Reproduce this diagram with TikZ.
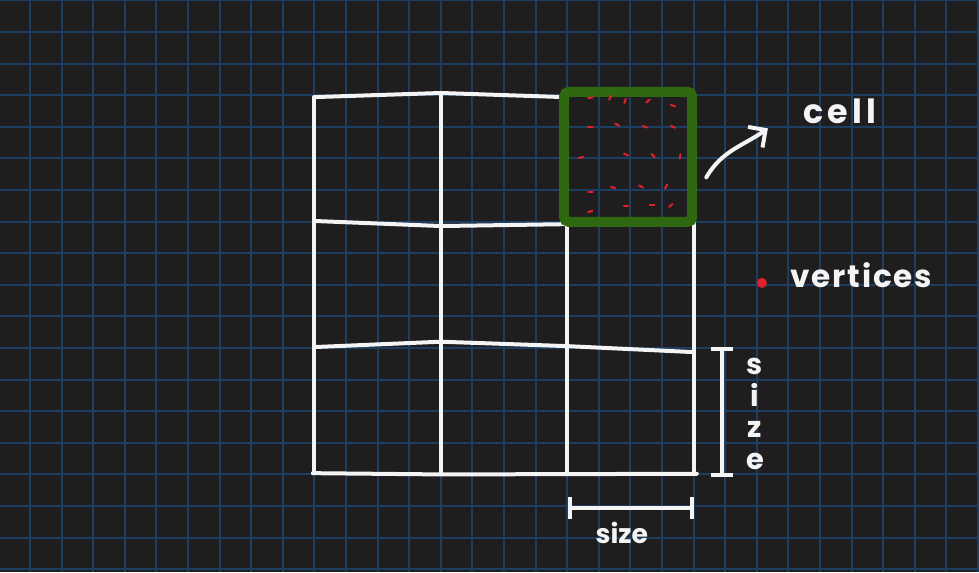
\documentclass[tikz,border=0pt]{standalone}
\usepackage{fontspec}
\setmainfont{Poppins}
\usetikzlibrary{arrows.meta}

\definecolor{board}{RGB}{31,29,29}
\definecolor{boardline}{RGB}{28,62,96}
\definecolor{chalk}{RGB}{244,244,244}
\definecolor{cellgreen}{RGB}{46,104,16}
\definecolor{vertred}{RGB}{226,32,44}

\tikzset{
    chalkline/.style={draw=chalk, line width=1.8pt, line cap=round, line join=round},
    hand/.style={text=chalk, inner sep=0pt},
    dimline/.style={chalkline, {Bar[width=10pt]}-{Bar[width=10pt]}},
}

\begin{document}
\begin{tikzpicture}[x=0.5cm,y=0.5cm]
        % the board and its squares
        \fill[board] (-0.949,-0.089) rectangle (30.03,18.013);
        \useasboundingbox (-0.949,-0.089) rectangle (30.03,18.013);
        \draw[boardline, line width=0.9pt, step=1] (-0.949,-0.089) grid (30.03,18.013);

        % the big square, 3 by 3 cells
        \draw[chalkline] (9,14.94) -- (13,15.07) -- (16.9,14.94);
        \draw[chalkline] (9,14.94) -- (9,3.04);
        \draw[chalkline] (13,15.07) -- (13,3.04);
        \draw[chalkline] (17,11) -- (17,3.04);
        \draw[chalkline] (21,11) -- (21,3.04);
        \draw[chalkline] (9,11.02) -- (13,10.86) -- (17,10.92);
        \draw[chalkline] (9,7.03) -- (13,7.2) -- (17,7.06) -- (21,6.87);
        \draw[chalkline] (8.95,3.04) -- (13,3.0) -- (21.1,3.02);

        % the cell in the corner
        \node[draw=cellgreen, line width=4.5pt, rounded corners=2pt,
              minimum width=2.025cm, minimum height=2.055cm] (cellbox) at (18.93,13.05) {};

        % the red marks in the cell
        \foreach \x/\y/\a in {17.73/14.92/10, 18.36/14.92/60, 18.83/14.82/70, 19.56/14.82/40,
                              20.35/14.67/-20, 17.73/14.00/0, 18.58/14.07/-30, 19.46/14.00/-20,
                              20.35/14.00/-25, 17.44/13.03/15, 18.86/13.12/-25, 19.72/13.09/-45,
                              20.57/13.06/80, 17.73/11.95/0, 18.45/12.08/-15, 19.34/12.11/-30,
                              20.13/12.11/60, 17.73/11.32/20, 18.86/11.48/0, 19.68/11.51/0,
                              20.28/11.51/40}
            \draw[vertred, line width=0.9pt, line cap=round] (\x,\y) ++(\a:-0.07) -- ++(\a:0.14);

        % the arrow and the texts
        \coordinate (a0) at (21.4,12.4);
        \coordinate (a1) at (23.35,13.95);
        \draw[chalkline, -{Straight Barb[angle=90:8pt]}] (a0) to[out=60,in=215] (a1);
        \node[hand, anchor=base, font=\fontsize{15}{17}\selectfont\bfseries\addfontfeature{LetterSpace=12}] (celllabel) at (25.63,14.12) {cell};

        \node[circle, fill=vertred, inner sep=0pt, minimum size=4.5pt] (vertdot) at (23.16,9.06) {};
        \node[hand, anchor=base, font=\fontsize{14}{16}\selectfont\bfseries\addfontfeature{LetterSpace=6}] (vertlabel) at (26.3,8.93) {vertices};

        % the size of a cell
        \coordinate (v0) at (21.9,7.03);
        \coordinate (v1) at (21.9,2.92);
        \draw[dimline] (v0) -- (v1);
        \node[hand, align=center, font=\fontsize{13}{14.2}\selectfont\bfseries] (vsize) at (22.94,4.91) {s\\i\\z\\e};

        \coordinate (h0) at (17.03,1.94);
        \coordinate (h1) at (21.01,1.94);
        \draw[dimline] (h0) -- (h1);
        \node[hand, font=\fontsize{12}{14}\selectfont\bfseries] (hsize) at (18.73,1.15) {size};

    \end{tikzpicture}
\end{document}
